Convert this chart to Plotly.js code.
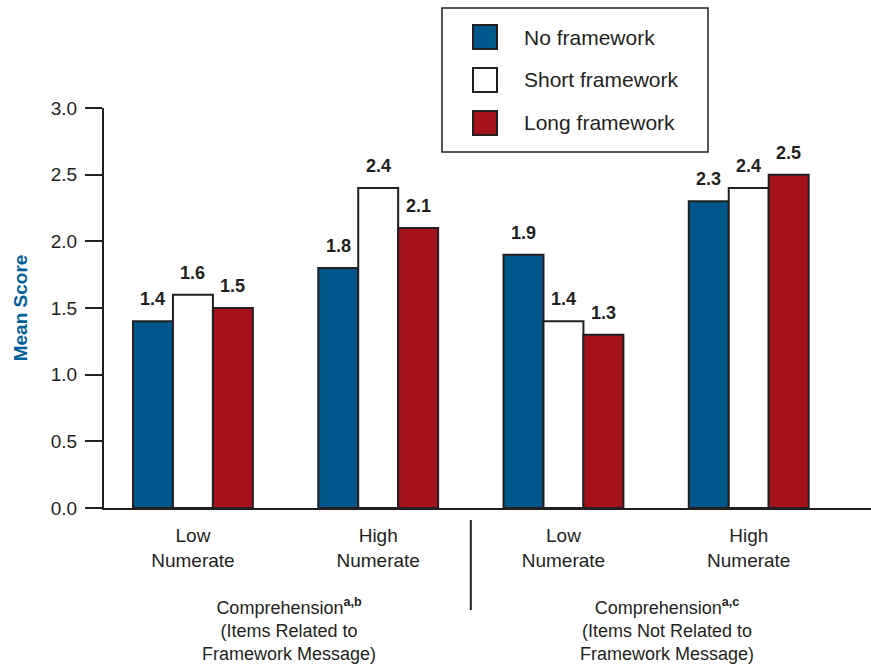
<!DOCTYPE html>
<html>
<head>
<meta charset="utf-8">
<script src="https://cdn.plot.ly/plotly-3.0.1.min.js"></script>
<style>html,body{margin:0;padding:0;background:#fff;}#chart{width:871px;height:664px;}</style>
</head>
<body>
<div id="chart"></div>
<script>
// ---- data ----
const categories = ["Low<br>Numerate", "High<br>Numerate", "Low<br>Numerate", "High<br>Numerate"];
const seriesNames = ["No framework", "Short framework", "Long framework"];
const noFramework = [1.4, 1.8, 1.9, 2.3];
const shortFramework = [1.6, 2.4, 1.4, 2.4];
const longFramework = [1.5, 2.1, 1.3, 2.5];
const groupLabels = [
  "Comprehension<sup><b>a,b</b></sup><br>(Items Related to<br>Framework Message)",
  "Comprehension<sup><b>a,c</b></sup><br>(Items Not Related to<br>Framework Message)"
];
const yTicks = [0, 0.5, 1.0, 1.5, 2.0, 2.5, 3.0];

// ---- style ----
const colors = ["#00578c", "#ffffff", "#a5121b"];
const ink = "#231f20";
const font = "Liberation Sans, Arial, Helvetica, sans-serif";
const bargap = 0.353;
const barW = (1 - bargap) / 3;
const xIdx = categories.map((_, i) => i);
const series = [noFramework, shortFramework, longFramework];

const traces = series.map((vals, s) => ({
  type: "bar",
  name: seriesNames[s],
  x: xIdx,
  y: vals,
  marker: { color: colors[s], line: { color: ink, width: 2 } },
  hoverinfo: "y",
  showlegend: false
}));

const annotations = [];
series.forEach((vals, s) => {
  vals.forEach((v, k) => {
    annotations.push({
      x: k + (s - 1) * barW, y: v, xref: "x", yref: "y",
      text: "<b>" + v.toFixed(1) + "</b>",
      showarrow: false, yanchor: "bottom", xanchor: "center", yshift: 10,
      font: { family: font, size: 18, color: ink }
    });
  });
});
// group labels
const groupX = [0.52, 2.56];
groupLabels.forEach((t, g) => {
  annotations.push({
    x: groupX[g], y: -0.212, xref: "x", yref: "paper",
    text: t, showarrow: false, yanchor: "top", xanchor: "center",
    font: { family: font, size: 18, color: ink }
  });
});

// manual legend
const px = p => (p - 104) / 767;
const py = p => (508 - p) / 400;
const shapes = [
  { type: "rect", xref: "paper", yref: "paper", x0: px(442), x1: px(708), y0: py(152), y1: py(8),
    line: { color: ink, width: 1.5 }, fillcolor: "#ffffff" },
  { type: "line", xref: "x", yref: "paper", x0: 1.5, x1: 1.5, y0: py(520), y1: py(610),
    line: { color: ink, width: 2 } }
];
const legendY = [37, 80, 123];
seriesNames.forEach((n, s) => {
  shapes.push({ type: "rect", xref: "paper", yref: "paper",
    x0: px(473), x1: px(497), y0: py(legendY[s] + 12), y1: py(legendY[s] - 12),
    line: { color: ink, width: 2 }, fillcolor: colors[s] });
  annotations.push({ x: px(522), y: py(legendY[s]), xref: "paper", yref: "paper",
    text: n, showarrow: false, xanchor: "left", yanchor: "middle",
    font: { family: font, size: 21, color: ink } });
});

const layout = {
  width: 871, height: 664,
  margin: { l: 104, r: 0, t: 108, b: 156 },
  paper_bgcolor: "#ffffff", plot_bgcolor: "#ffffff",
  barmode: "group", bargap: bargap, bargroupgap: 0,
  font: { family: font, color: ink },
  xaxis: {
    range: [-0.48, 3.66], tickvals: xIdx, ticktext: categories,
    showline: true, linecolor: ink, linewidth: 2, ticks: "", showgrid: false, zeroline: false,
    tickfont: { family: font, size: 19, color: ink }, ticklabelstandoff: 9, fixedrange: true
  },
  yaxis: {
    range: [0, 3], tickvals: yTicks, tickformat: ".1f",
    showline: true, linecolor: ink, linewidth: 2, ticks: "outside", ticklen: 17, tickwidth: 2, tickcolor: ink,
    showgrid: false, zeroline: false,
    tickfont: { family: font, size: 19, color: ink }, ticklabelstandoff: 4,
    title: { text: "<b>Mean Score</b>", font: { family: font, size: 19, color: "#00609c" }, standoff: 18 },
    fixedrange: true
  },
  annotations: annotations,
  shapes: shapes,
  showlegend: false
};

Plotly.newPlot("chart", traces, layout, { displayModeBar: false, staticPlot: true });
</script>
</body>
</html>
